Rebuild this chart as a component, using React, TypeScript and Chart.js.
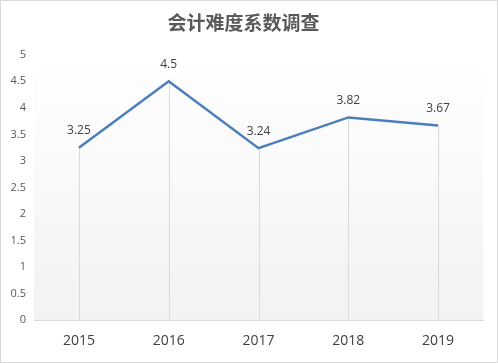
import React, { useEffect, useRef } from "react";
import { Chart, registerables } from "chart.js";

Chart.register(...registerables);

const categories = ["2015", "2016", "2017", "2018", "2019"];
const values = [3.25, 4.5, 3.24, 3.82, 3.67];
const valueLabels = ["3.25", "4.5", "3.24", "3.82", "3.67"];
const titleText = "会计难度系数调查";

const FONT = "'Open Sans', 'Noto Sans CJK SC', sans-serif";

const decorPlugin = {
  id: "decor",
  beforeDraw(chart: any) {
    const { ctx, chartArea, width, height } = chart;
    ctx.save();
    ctx.fillStyle = "#ffffff";
    ctx.fillRect(0, 0, width, height);
    const g = ctx.createLinearGradient(0, chartArea.top, 0, chartArea.bottom);
    g.addColorStop(0, "#ffffff");
    g.addColorStop(1, "#f2f2f2");
    ctx.fillStyle = g;
    ctx.fillRect(chartArea.left, chartArea.top, chartArea.right - chartArea.left, chartArea.bottom - chartArea.top);
    ctx.strokeStyle = "#d9d9d9";
    ctx.lineWidth = 1;
    ctx.strokeRect(0.5, 0.5, width - 1, height - 1);
    ctx.restore();
  },
  beforeDatasetsDraw(chart: any) {
    const { ctx } = chart;
    const meta = chart.getDatasetMeta(0);
    const yb = chart.scales.y.getPixelForValue(0);
    ctx.save();
    ctx.strokeStyle = "#d9d9d9";
    ctx.lineWidth = 1;
    meta.data.forEach((p: any) => {
      const x = Math.round(p.x) + 0.5;
      ctx.beginPath();
      ctx.moveTo(x, p.y);
      ctx.lineTo(x, yb);
      ctx.stroke();
    });
    ctx.restore();
  },
  afterDatasetsDraw(chart: any) {
    const { ctx } = chart;
    const meta = chart.getDatasetMeta(0);
    ctx.save();
    ctx.fillStyle = "#404040";
    ctx.font = `12px ${FONT}`;
    ctx.textAlign = "center";
    ctx.textBaseline = "middle";
    meta.data.forEach((p: any, i: number) => {
      ctx.fillText(valueLabels[i], p.x, p.y - 17);
    });
    ctx.restore();
  },
};

export default function App() {
  const ref = useRef<HTMLCanvasElement>(null);
  useEffect(() => {
    document.body.style.margin = "0";
    const chart = new Chart(ref.current!, {
      type: "line",
      data: {
        labels: categories,
        datasets: [
          {
            data: values,
            borderColor: "#4a7ebb",
            borderWidth: 2.5,
            pointRadius: 0,
            tension: 0,
            fill: false,
          },
        ],
      },
      options: {
        animation: false,
        responsive: false,
        maintainAspectRatio: false,
        layout: { padding: { left: 4, right: 15, top: 4, bottom: 2 } },
        plugins: {
          legend: { display: false },
          tooltip: { enabled: false },
          title: {
            display: true,
            text: titleText,
            color: "#595959",
            font: { family: FONT, size: 19, weight: "bold" },
            padding: { top: 9, bottom: 19 },
          },
        },
        scales: {
          x: {
            offset: true,
            grid: { display: false, drawTicks: false },
            border: { display: true, color: "#d9d9d9", width: 1 },
            ticks: { color: "#404040", font: { family: FONT, size: 14 }, padding: 12 },
          },
          y: {
            min: 0,
            max: 5,
            grid: { display: false, drawTicks: false },
            border: { display: false },
            afterFit: (s: any) => {
              s.width = 30;
            },
            ticks: {
              stepSize: 0.5,
              color: "#595959",
              font: { family: FONT, size: 11 },
              padding: 8,
              callback: (v: any) => String(v),
            },
          },
        },
      },
      plugins: [decorPlugin],
    });
    return () => chart.destroy();
  }, []);
  return (
    <div style={{ position: "fixed", left: 0, top: 0, width: 498, height: 363 }}>
      <canvas ref={ref} width={498} height={363} style={{ width: 498, height: 363, display: "block" }} />
    </div>
  );
}
